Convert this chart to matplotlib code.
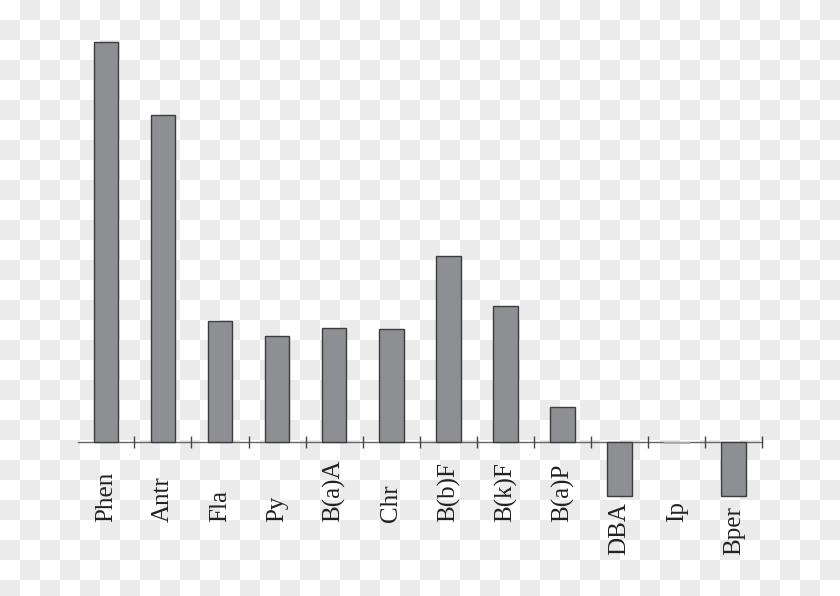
import numpy as np
import matplotlib
matplotlib.use("Agg")
import matplotlib.pyplot as plt

categories = ["Phen", "Antr", "Fla", "Py", "B(a)A", "Chr", "B(b)F", "B(k)F",
              "B(a)P", "DBA", "Ip", "Bper"]
values = [100.0, 81.8, 30.2, 26.6, 28.6, 28.2, 46.5, 34.1, 8.75, -13.5, -0.2, -13.5]

W, H = 840, 596
fig = plt.figure(figsize=(W / 100, H / 100), dpi=100)

# light checkerboard background as in the reference picture
yy, xx = np.mgrid[0:H, 0:W]
board = np.where(((xx // 20) + (yy // 20)) % 2 == 1, 0.925, 1.0)
rgb = np.dstack([board, board, board])
fig.figimage(rgb, xo=0, yo=0, origin="upper", zorder=-10)

ax = fig.add_axes([78 / W, 0, (762.3 - 78) / W, 1])
ax.patch.set_visible(False)
x = np.arange(len(categories))
bars = ax.bar(x, values, width=0.43, color="#8e8f93", edgecolor="#3c3c3c",
              linewidth=1.0, zorder=2)
bars[categories.index("Ip")].set_edgecolor("#b0b0b0")
bars[categories.index("Ip")].set_linewidth(0.6)

ax.set_xlim(-0.487, 11.5)
ax.set_ylim(-154 / 4, (H - 154) / 4)

for s in ["top", "right", "left"]:
    ax.spines[s].set_visible(False)
ax.spines["bottom"].set_position(("data", 0))
ax.spines["bottom"].set_color("#666666")
ax.spines["bottom"].set_linewidth(1.0)
ax.spines["bottom"].set_zorder(1)
ax.set_yticks([])
ax.set_xticks(x + 0.5)
ax.set_xticklabels([])
ax.tick_params(axis="x", direction="inout", length=9, width=1.0, color="#444444")

for xi, lab, v in zip(x, categories, values):
    ypos = -20 if v > -5 else -28.25
    ax.text(xi, ypos, lab, rotation=90, ha="center", va="bottom",
            fontsize=18, family="Liberation Serif", color="#222222")

fig.savefig("out.png", dpi=100)
